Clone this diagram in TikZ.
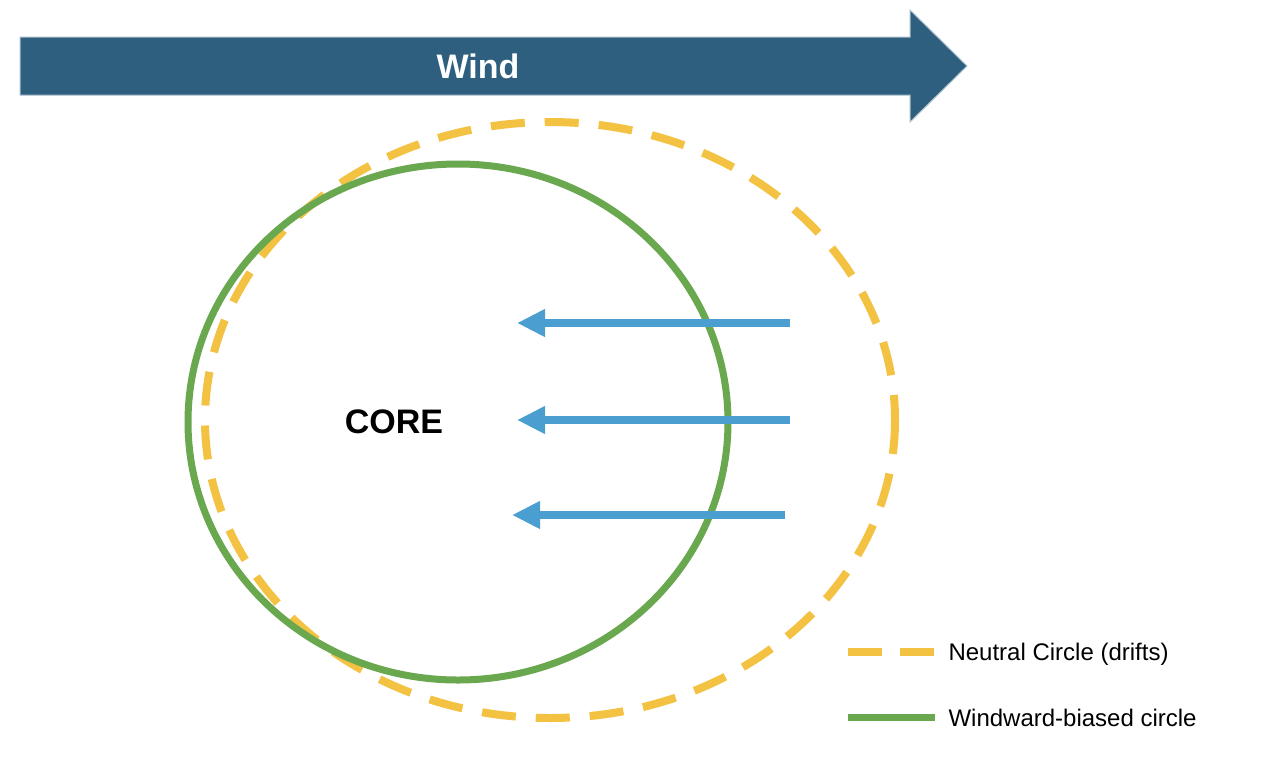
\documentclass[tikz,border=0pt]{standalone}
\usepackage{fontspec}
\setmainfont{Liberation Sans}
\usetikzlibrary{arrows.meta}
\definecolor{windblue}{HTML}{2E5F7F}
\definecolor{neutral}{HTML}{F4C242}
\definecolor{wgreen}{HTML}{6AA84F}
\definecolor{flow}{HTML}{4A9FD0}
\begin{document}
\begin{tikzpicture}[x=1pt,y=-1pt,
  neutralline/.style={neutral,line width=8pt,dash pattern=on 34pt off 20pt},
  greenline/.style={wgreen,line width=7pt},
  flowarrow/.style={flow,line width=8pt,-{Triangle[length=28pt,width=26pt]}},
  legendtext/.style={anchor=west,font=\fontsize{24}{28}\selectfont}]
\useasboundingbox (0,0) rectangle (1282,764);
\fill[white] (0,0) rectangle (1282,764);
% wind arrow
\filldraw[fill=windblue,draw=windblue!40!white,line width=1pt]
  (20,37) -- (910,37) -- (910,10) -- (967,66) -- (910,122) -- (910,95) -- (20,95) -- cycle;
\node[white,font=\bfseries\fontsize{34}{40}\selectfont] (wind) at (478,66) {Wind};
% circles
\draw[neutralline] (550,420) ellipse [x radius=345, y radius=298];
\draw[greenline] (458,422) ellipse [x radius=270, y radius=258];
\node[font=\bfseries\fontsize{34}{40}\selectfont] (core) at (394,422) {CORE};
% flow arrows
\coordinate (a1s) at (790,323); \coordinate (a1e) at (517,323);
\coordinate (a2s) at (790,420); \coordinate (a2e) at (517,420);
\coordinate (a3s) at (785,515); \coordinate (a3e) at (512,515);
\draw[flowarrow] (a1s) -- (a1e);
\draw[flowarrow] (a2s) -- (a2e);
\draw[flowarrow] (a3s) -- (a3e);
% legend
\coordinate (l1a) at (848,652); \coordinate (l1b) at (935,652);
\coordinate (l2a) at (848,717); \coordinate (l2b) at (935,717);
\draw[neutralline,dash pattern=on 34pt off 18pt] (l1a) -- (l1b);
\draw[greenline] (l2a) -- (l2b);
\node[legendtext] (t1) at (945,654) {Neutral Circle (drifts)};
\node[legendtext] (t2) at (945,718) {Windward-biased circle};
\end{tikzpicture}
\end{document}
